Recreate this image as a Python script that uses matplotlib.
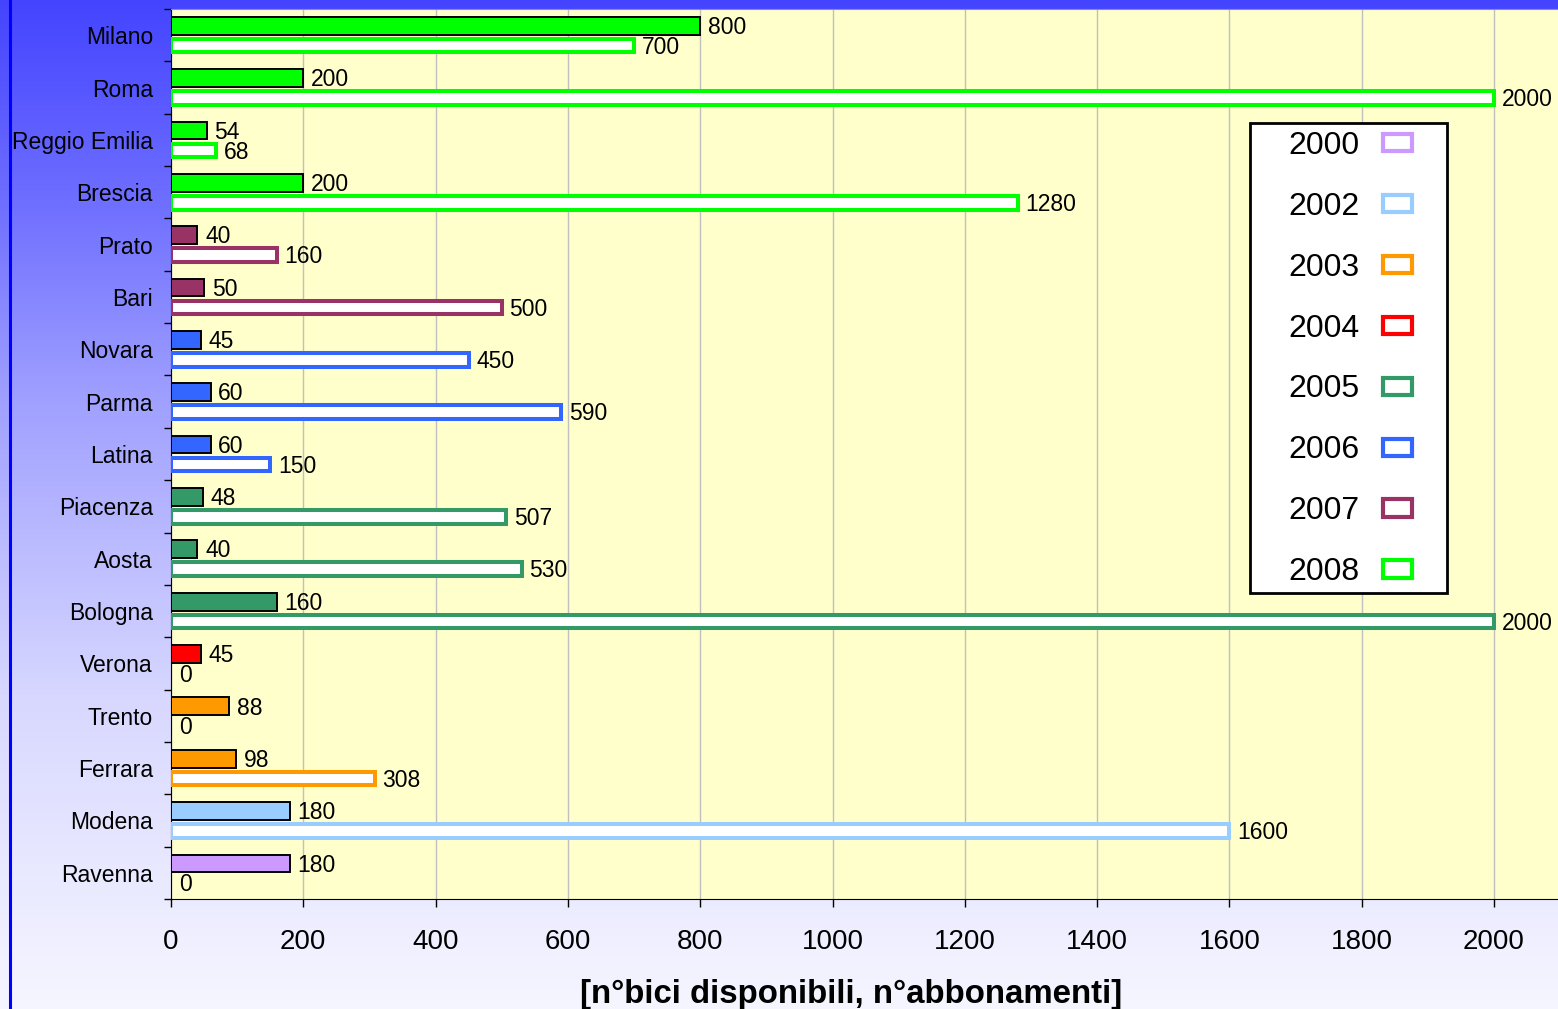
#!/usr/bin/env python3

import numpy as np
import matplotlib
matplotlib.use("Agg")
import matplotlib.pyplot as plt
import matplotlib.patches as mpatches

plt.rcParams['font.family'] = ['Liberation Sans', 'DejaVu Sans']

# data, top to bottom
cities = ['Milano', 'Roma', 'Reggio Emilia', 'Brescia', 'Prato', 'Bari',
          'Novara', 'Parma', 'Latina', 'Piacenza', 'Aosta', 'Bologna',
          'Verona', 'Trento', 'Ferrara', 'Modena', 'Ravenna']
bici = [800, 200, 54, 200, 40, 50, 45, 60, 60, 48, 40, 160, 45, 88, 98, 180, 180]
abbonamenti = [700, 2000, 68, 1280, 160, 500, 450, 590, 150, 507, 530, 2000,
               0, 0, 308, 1600, 0]
anno = [2008, 2008, 2008, 2008, 2007, 2007, 2006, 2006, 2006, 2005, 2005, 2005,
        2004, 2003, 2003, 2002, 2000]

years = [2000, 2002, 2003, 2004, 2005, 2006, 2007, 2008]
year_colors = {2000: '#cc99ff', 2002: '#99ccff', 2003: '#ff9900', 2004: '#ff0000',
               2005: '#339966', 2006: '#3366ff', 2007: '#993366', 2008: '#00ff00'}

W, H = 1558, 1009
fig = plt.figure(figsize=(W / 100, H / 100), dpi=100)


# background gradient

bg = fig.add_axes([0, 0, 1, 1], zorder=-10)
bg.axis('off')
rows = np.arange(H)
level = np.interp(rows, [0, 200, 400, 700, H], [0x44, 0x6e, 0xa0, 0xd8, 0xf6]) / 255
img = np.ones((H, 1, 3))
img[:, 0, 0] = level
img[:, 0, 1] = level
bg.imshow(img, aspect='auto', extent=[0, 1, 0, 1], origin='upper')
bg.set_xlim(0, 1)
bg.set_ylim(0, 1)
fig.add_artist(plt.Line2D([10 / W, 10 / W], [0, 1], color='#0000ff', lw=2.2))


# bars

ax = fig.add_axes([171 / W, (H - 899) / H, 1 - 171 / W, (899 - 9) / H])
ax.set_facecolor('#ffffcc')

n = len(cities)
pos = np.arange(n)
colors = [year_colors[a] for a in anno]

b1 = ax.barh(pos - 0.18, bici, height=0.34, color=colors,
             edgecolor='black', linewidth=1.4, zorder=3)
b2 = ax.barh(pos + 0.2, abbonamenti, height=0.26, color='white',
             edgecolor=colors, linewidth=[2.9 if v > 0 else 0 for v in abbonamenti],
             zorder=3)
for cont in (b1, b2):
    for lab in ax.bar_label(cont, padding=5.5, fontsize=16.5):
        # nudge the digits down a little, like the original
        lab.xyann = (lab.xyann[0], lab.xyann[1] - 1.2)

ax.set_xlim(0, 2000 * (W - 171) / (1494 - 171))
ax.set_ylim(n - 0.5, -0.5)

ax.set_xticks(range(0, 2001, 200))
ax.tick_params(axis='x', direction='out', length=6, width=1, pad=15.5, labelsize=20)
ax.xaxis.grid(True, color='#c0c0c0', lw=1)
ax.set_axisbelow(True)

ax.set_yticks(pos)
ax.set_yticklabels(cities)
ax.tick_params(axis='y', which='major', length=0, pad=13, labelsize=16.5)
ax.set_yticks(np.arange(-0.5, n), minor=True)
ax.tick_params(axis='y', which='minor', length=5, width=1, direction='out')

ax.spines['right'].set_visible(False)
ax.spines['top'].set_color('#909090')


# legend

handles = [mpatches.Patch(facecolor='white', edgecolor=year_colors[y], lw=3,
                          label=str(y)) for y in years]
fig.legend(handles=handles, loc='center',
           bbox_to_anchor=(1350 / W, 1 - 359 / H), bbox_transform=fig.transFigure,
           frameon=False, markerfirst=False, fontsize=23,
           handlelength=0.9, handleheight=0.45, handletextpad=0.75,
           labelspacing=0.97, borderpad=0)
fig.add_artist(mpatches.Rectangle((1250 / W, 1 - 593 / H), 197 / W, 470 / H,
                                  facecolor='white', edgecolor='black', lw=2,
                                  transform=fig.transFigure, zorder=4))


# x label

fig.text(851 / W, 1 - 994 / H, '[n°bici disponibili, n°abbonamenti]',
         ha='center', va='center', fontsize=23.8, fontweight='bold')

fig.savefig('out.png', dpi=100)
